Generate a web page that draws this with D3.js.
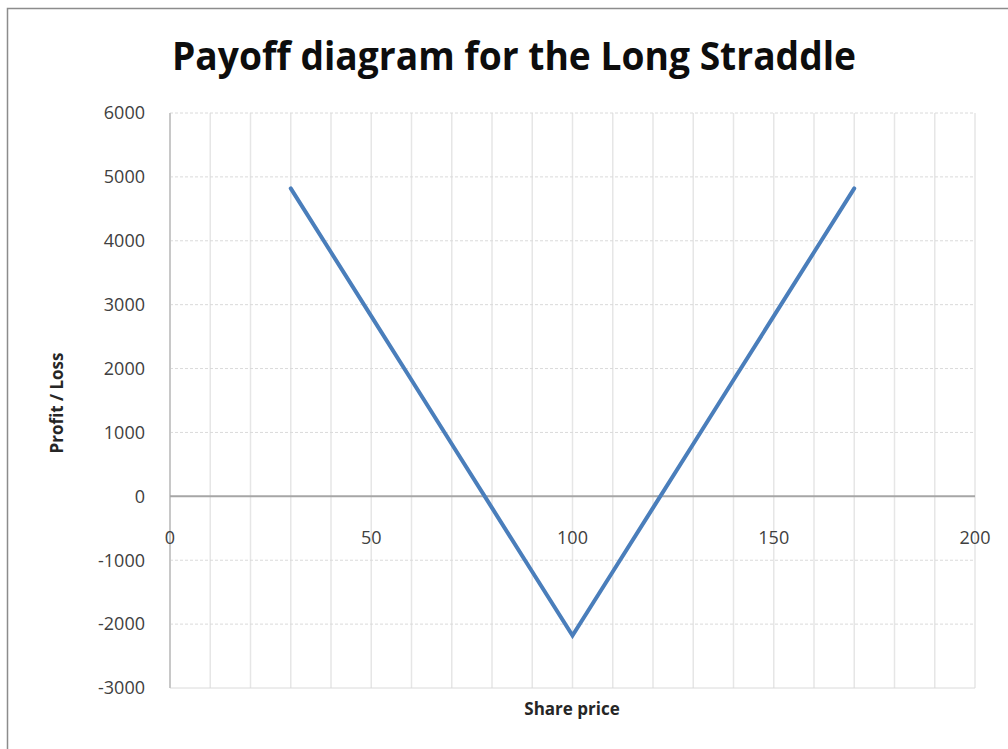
<!DOCTYPE html>
<html>
<head>
<meta charset="utf-8">
<script src="https://cdn.jsdelivr.net/npm/d3@7"></script>
<style>
  body { margin: 0; background: #fff; }
  text { font-family: "Open Sans", "Noto Sans", sans-serif; }
</style>
</head>
<body>
<svg id="chart" width="1008" height="749"></svg>
<script>
// share price vs profit/loss for the straddle
var sharePrice = [30, 40, 50, 60, 70, 80, 90, 100, 110, 120, 130, 140, 150, 160, 170];
var profitLoss = [4820, 3820, 2820, 1820, 820, -180, -1180, -2180, -1180, -180, 820, 1820, 2820, 3820, 4820];
var xTicks = [0, 50, 100, 150, 200];
var yTicks = [-3000, -2000, -1000, 0, 1000, 2000, 3000, 4000, 5000, 6000];
var xGrid = d3.range(0, 201, 10);

var svg = d3.select('#chart');

// outer frame
svg.append('rect')
    .attr('x', 7.5).attr('y', 8.5)
    .attr('width', 1020).attr('height', 780)
    .attr('fill', '#fff')
    .attr('stroke', '#8c8c8c')
    .attr('stroke-width', 1.5);

var x = d3.scaleLinear().domain([0, 200]).range([170, 975]);
var y = d3.scaleLinear().domain([-3000, 6000]).range([688, 113]);

// gridlines
svg.append('g').selectAll('line')
    .data(xGrid.slice(1))
    .enter().append('line')
    .attr('x1', d => x(d)).attr('x2', d => x(d))
    .attr('y1', y(6000)).attr('y2', y(-3000))
    .attr('stroke', '#e6e6e6')
    .attr('stroke-width', 1.5);

svg.append('g').selectAll('line')
    .data(yTicks.filter(d => d !== 0))
    .enter().append('line')
    .attr('x1', x(0)).attr('x2', x(200))
    .attr('y1', d => y(d)).attr('y2', d => y(d))
    .attr('stroke', '#dadada')
    .attr('stroke-width', 1)
    .attr('stroke-dasharray', d => d === -3000 ? null : '3,2');

// y axis line and zero line
svg.append('line')
    .attr('x1', x(0)).attr('x2', x(0))
    .attr('y1', y(6000)).attr('y2', y(-3000))
    .attr('stroke', '#c8c8c8').attr('stroke-width', 2);
svg.append('line')
    .attr('x1', x(0)).attr('x2', x(200))
    .attr('y1', y(0)).attr('y2', y(0))
    .attr('stroke', '#a6a6a6').attr('stroke-width', 2);

// tick labels
svg.append('g').selectAll('text')
    .data(yTicks)
    .enter().append('text')
    .attr('x', 145)
    .attr('y', d => y(d))
    .attr('dy', '0.35em')
    .attr('text-anchor', 'end')
    .attr('font-size', 18)
    .attr('fill', '#404040')
    .text(d => d);

svg.append('g').selectAll('text')
    .data(xTicks)
    .enter().append('text')
    .attr('x', d => x(d))
    .attr('y', y(0) + 41)
    .attr('dy', '0.35em')
    .attr('text-anchor', 'middle')
    .attr('font-size', 18)
    .attr('fill', '#404040')
    .text(d => d);

// the payoff line
var line = d3.line()
    .x((d, i) => x(sharePrice[i]))
    .y(d => y(d));
svg.append('path')
    .datum(profitLoss)
    .attr('d', line)
    .attr('fill', 'none')
    .attr('stroke', '#4a7ebb')
    .attr('stroke-width', 4)
    .attr('stroke-linecap', 'round');

// titles
svg.append('text')
    .attr('x', 514).attr('y', 70)
    .attr('text-anchor', 'middle')
    .attr('font-size', 39)
    .attr('font-weight', 'bold')
    .attr('fill', '#0d0d0d')
    .attr('textLength', 684)
    .attr('lengthAdjust', 'spacingAndGlyphs')
    .text('Payoff diagram for the Long Straddle');

svg.append('text')
    .attr('x', 572).attr('y', 715)
    .attr('text-anchor', 'middle')
    .attr('font-size', 17)
    .attr('font-weight', 'bold')
    .attr('fill', '#262626')
    .text('Share price');

svg.append('text')
    .attr('transform', 'translate(63,403) rotate(-90)')
    .attr('text-anchor', 'middle')
    .attr('font-size', 17)
    .attr('font-weight', 'bold')
    .attr('fill', '#262626')
    .text('Profit / Loss');
</script>
</body>
</html>
